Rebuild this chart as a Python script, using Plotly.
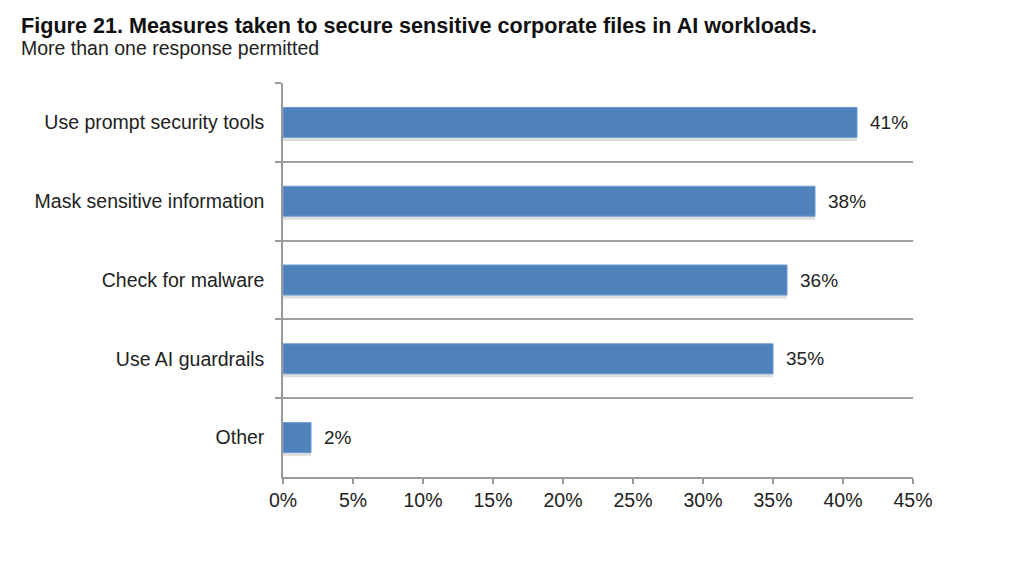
import plotly.graph_objects as go

categories = ["Use prompt security tools", "Mask sensitive information",
              "Check for malware", "Use AI guardrails", "Other"]
values = [41, 38, 36, 35, 2]
value_labels = ["41%", "38%", "36%", "35%", "2%"]
tick_vals = [0, 5, 10, 15, 20, 25, 30, 35, 40, 45]
tick_text = ["0%", "5%", "10%", "15%", "20%", "25%", "30%", "35%", "40%", "45%"]

title_text = "Figure 21. Measures taken to secure sensitive corporate files in AI workloads."
subtitle_text = "More than one response permitted"

FONT = "Liberation Sans, Arial, Helvetica, sans-serif"
BAR_W = 0.38

fig = go.Figure()

# soft shadow under each bar
fig.add_trace(go.Bar(
    x=values, y=categories, orientation="h",
    width=BAR_W, offset=-BAR_W / 2 + 0.045,
    marker=dict(color="rgba(0,0,0,0.13)", line=dict(width=0)),
    hoverinfo="skip", showlegend=False,
))
fig.add_trace(go.Bar(
    x=values, y=categories, orientation="h",
    width=BAR_W, offset=-BAR_W / 2,
    marker=dict(color="#4F81BD", line=dict(color="#6B98CF", width=1)),
    showlegend=False,
))

for c, v, lab in zip(categories, values, value_labels):
    fig.add_annotation(x=v, y=c, text=lab, showarrow=False,
                       xanchor="left", yanchor="middle", xshift=11,
                       font=dict(family=FONT, size=19, color="#222222"))

fig.add_annotation(xref="paper", yref="paper", x=-0.4198, y=1.147,
                   xanchor="left", yanchor="middle", showarrow=False,
                   text="<b>" + title_text + "</b>",
                   font=dict(family=FONT, size=21.6, color="#111111"))
fig.add_annotation(xref="paper", yref="paper", x=-0.4198, y=1.089,
                   xanchor="left", yanchor="middle", showarrow=False,
                   text=subtitle_text,
                   font=dict(family=FONT, size=19.5, color="#222222"))

fig.update_layout(
    width=1024, height=567,
    margin=dict(l=275, r=119, t=75, b=98),
    paper_bgcolor="white", plot_bgcolor="white",
    barmode="overlay",
    font=dict(family=FONT, color="#222222"),
    xaxis=dict(range=[0, 45], tickvals=tick_vals, ticktext=tick_text,
               showgrid=False, zeroline=False,
               showline=True, linecolor="#9a9a9a", linewidth=1.5,
               ticks="outside", ticklen=5, tickcolor="#9a9a9a", tickwidth=1.5,
               tickfont=dict(family=FONT, size=19.5, color="#222222"),
               fixedrange=True),
    yaxis=dict(categoryorder="array", categoryarray=categories,
               autorange="reversed", tickson="boundaries",
               showgrid=True, gridcolor="#a0a0a0", gridwidth=1.5,
               showline=True, linecolor="#9a9a9a", linewidth=1.5,
               ticks="outside", ticklen=6, tickcolor="#9a9a9a", tickwidth=1.5,
               ticklabelstandoff=13,
               tickfont=dict(family=FONT, size=19.5, color="#222222"),
               fixedrange=True),
)

fig.write_html("out.html")
